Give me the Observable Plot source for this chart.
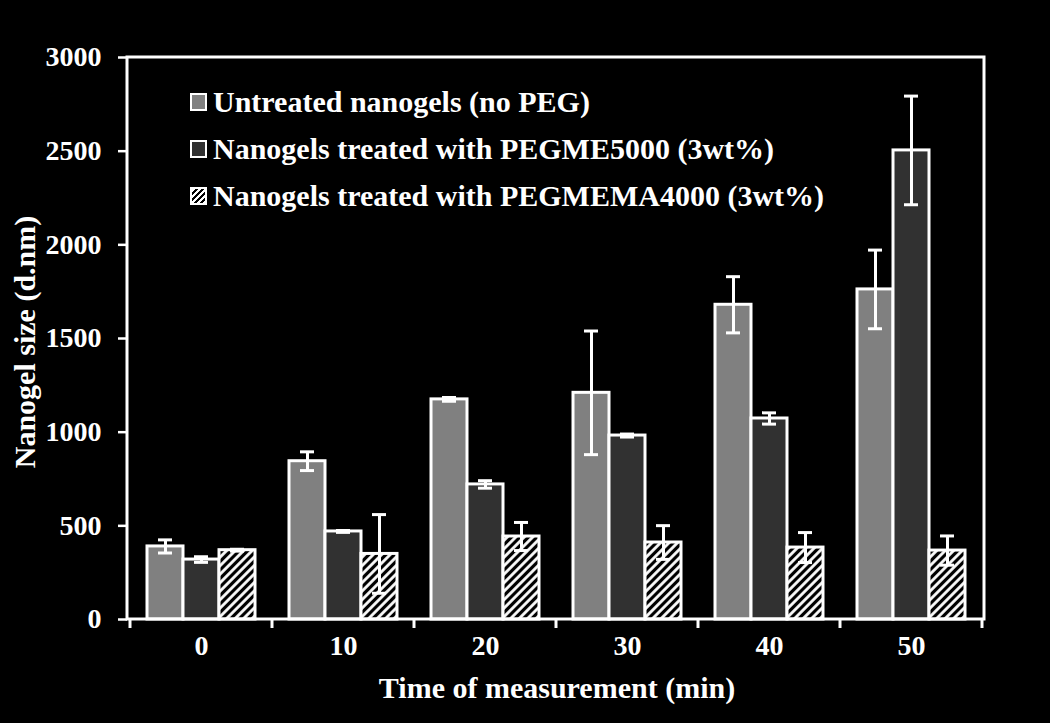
<!DOCTYPE html>
<html><head><meta charset="utf-8">
<script src="https://cdn.jsdelivr.net/npm/d3@7"></script>
<script src="https://cdn.jsdelivr.net/npm/@observablehq/plot@0.6"></script>
<style>
html,body{margin:0;padding:0;background:#000;}
#wrap{position:relative;width:1050px;height:723px;background:#000;font-family:'Liberation Serif','Times New Roman',serif;font-weight:bold;color:#fff;overflow:hidden}
#wrap svg{position:absolute;left:0;top:0}
.legend{position:absolute;left:190px;top:78px;font-size:30px}
.row{display:flex;align-items:center;height:47px;white-space:nowrap}
.sw{width:13px;height:14px;border:2.5px solid #fff;margin-right:6px;box-sizing:content-box;flex:none}
.ytitle{position:absolute;left:25px;top:342px;transform:translate(-50%,-50%) rotate(-90deg);font-size:30px;white-space:nowrap}
.xtitle{position:absolute;left:557px;top:688px;transform:translate(-50%,-50%);font-size:30px;white-space:nowrap}
</style></head>
<body><div id="wrap"></div>
<script>
// ---- data ----
const times = [0, 10, 20, 30, 40, 50];
const seriesNames = [
  "Untreated nanogels (no PEG)",
  "Nanogels treated with PEGME5000 (3wt%)",
  "Nanogels treated with PEGMEMA4000 (3wt%)"
];
const untreated      = [390, 845, 1175, 1210, 1680, 1762];
const untreatedErr   = [35, 50, 10, 330, 150, 210];
const pegme5000      = [320, 470, 721, 982, 1073, 2504];
const pegme5000Err   = [15, 5, 20, 8, 30, 290];
const pegmema4000    = [370, 350, 443, 411, 384, 368];
const pegmema4000Err = [5, 210, 75, 90, 80, 78];
const yTicks = [0, 500, 1000, 1500, 2000, 2500, 3000];
const fills = ["#808080", "#313131", "url(#hatch)"];

const values = [untreated, pegme5000, pegmema4000];
const errs = [untreatedErr, pegme5000Err, pegmema4000Err];
const data = [];
times.forEach((t, i) => {
  seriesNames.forEach((s, j) => {
    data.push({time: t, series: s, idx: j, value: values[j][i], err: errs[j][i]});
  });
});

const plot = Plot.plot({
  width: 1050,
  height: 723,
  marginLeft: 127,
  marginRight: 66,
  marginTop: 57,
  marginBottom: 104,
  style: {background: "black", color: "white", fontFamily: "'Liberation Serif', 'Times New Roman', serif", fontWeight: "bold", fontSize: "28px"},
  facet: {data, x: "time"},
  fx: {domain: times, paddingInner: 0.24, paddingOuter: 0.12, label: null, tickSize: 0, tickPadding: 16, axis: "bottom"},
  x: {domain: seriesNames, padding: 0, axis: null},
  y: {domain: [0, 3000], ticks: yTicks, tickFormat: d => String(d), tickSize: 9, tickPadding: 17, label: null},
  color: {type: "identity"},
  marks: [
    Plot.barY(data, {x: "series", y: "value", fill: d => fills[d.idx], stroke: "white", strokeWidth: 3}),
    Plot.ruleX(data, {x: "series", y1: d => d.value - d.err, y2: d => d.value + d.err, stroke: "white", strokeWidth: 3}),
    Plot.tickY(data, {x: "series", y: d => d.value + d.err, stroke: "white", strokeWidth: 3, insetLeft: 11, insetRight: 11}),
    Plot.tickY(data, {x: "series", y: d => d.value - d.err, stroke: "white", strokeWidth: 3, insetLeft: 11, insetRight: 11})
  ]
});

const svg = d3.select(plot);
// hatch pattern
const defs = svg.insert("defs", ":first-child");
const pat = defs.append("pattern").attr("id", "hatch").attr("patternUnits", "userSpaceOnUse")
  .attr("width", 6).attr("height", 6).attr("patternTransform", "rotate(45)");
pat.append("rect").attr("width", 6).attr("height", 6).attr("fill", "black");
pat.append("line").attr("x1", 1.5).attr("y1", 0).attr("x2", 1.5).attr("y2", 6).attr("stroke", "white").attr("stroke-width", 2.8);

const fx = plot.scale("fx"), y = plot.scale("y");
const r0 = fx.range[0], r1 = fx.range[1];
const starts = times.map(t => fx.apply(t));

// move the y axis (attached to the first facet) onto the frame edge
const shift = r0 - starts[0];
svg.selectAll('[aria-label^="y-axis"]').each(function() {
  const tr = this.getAttribute("transform") || "";
  this.setAttribute("transform", `translate(${shift},0) ${tr}`);
});
svg.selectAll('[aria-label^="y-axis"] line, [aria-label^="y-axis"] path')
  .attr("stroke-width", 2.5).attr("stroke", "white");

// frame and group-boundary ticks from scales
const yTop = y.apply(3000), yBot = y.apply(0);
const g = svg.append("g").attr("stroke", "white").attr("stroke-width", 3).attr("fill", "none");
g.append("rect").attr("x", r0).attr("y", yTop).attr("width", r1 - r0).attr("height", yBot - yTop);
const step = starts[1] - starts[0];
const bw = fx.bandwidth != null ? fx.bandwidth : step * (1 - 0.24);
const bounds = starts.map(s => s - (step - bw) / 2);
bounds.push(starts[starts.length - 1] + bw + (step - bw) / 2);
bounds.forEach(b => g.append("line").attr("x1", b).attr("x2", b).attr("y1", yBot).attr("y2", yBot + 9));

const wrap = document.getElementById("wrap");
wrap.appendChild(plot);

// legend
const legend = document.createElement("div");
legend.className = "legend";
seriesNames.forEach((s, j) => {
  const row = document.createElement("div");
  row.className = "row";
  const sw = document.createElement("span");
  sw.className = "sw";
  if (j === 2) sw.style.background = "repeating-linear-gradient(-45deg, #fff 0 2px, #000 2px 4.2px)";
  else sw.style.background = fills[j];
  row.appendChild(sw);
  const tx = document.createElement("span");
  tx.textContent = s;
  row.appendChild(tx);
  legend.appendChild(row);
});
wrap.appendChild(legend);

const yt = document.createElement("div");
yt.className = "ytitle"; yt.textContent = "Nanogel size (d.nm)";
wrap.appendChild(yt);
const xt = document.createElement("div");
xt.className = "xtitle"; xt.textContent = "Time of measurement (min)";
wrap.appendChild(xt);
</script>
</body></html>
